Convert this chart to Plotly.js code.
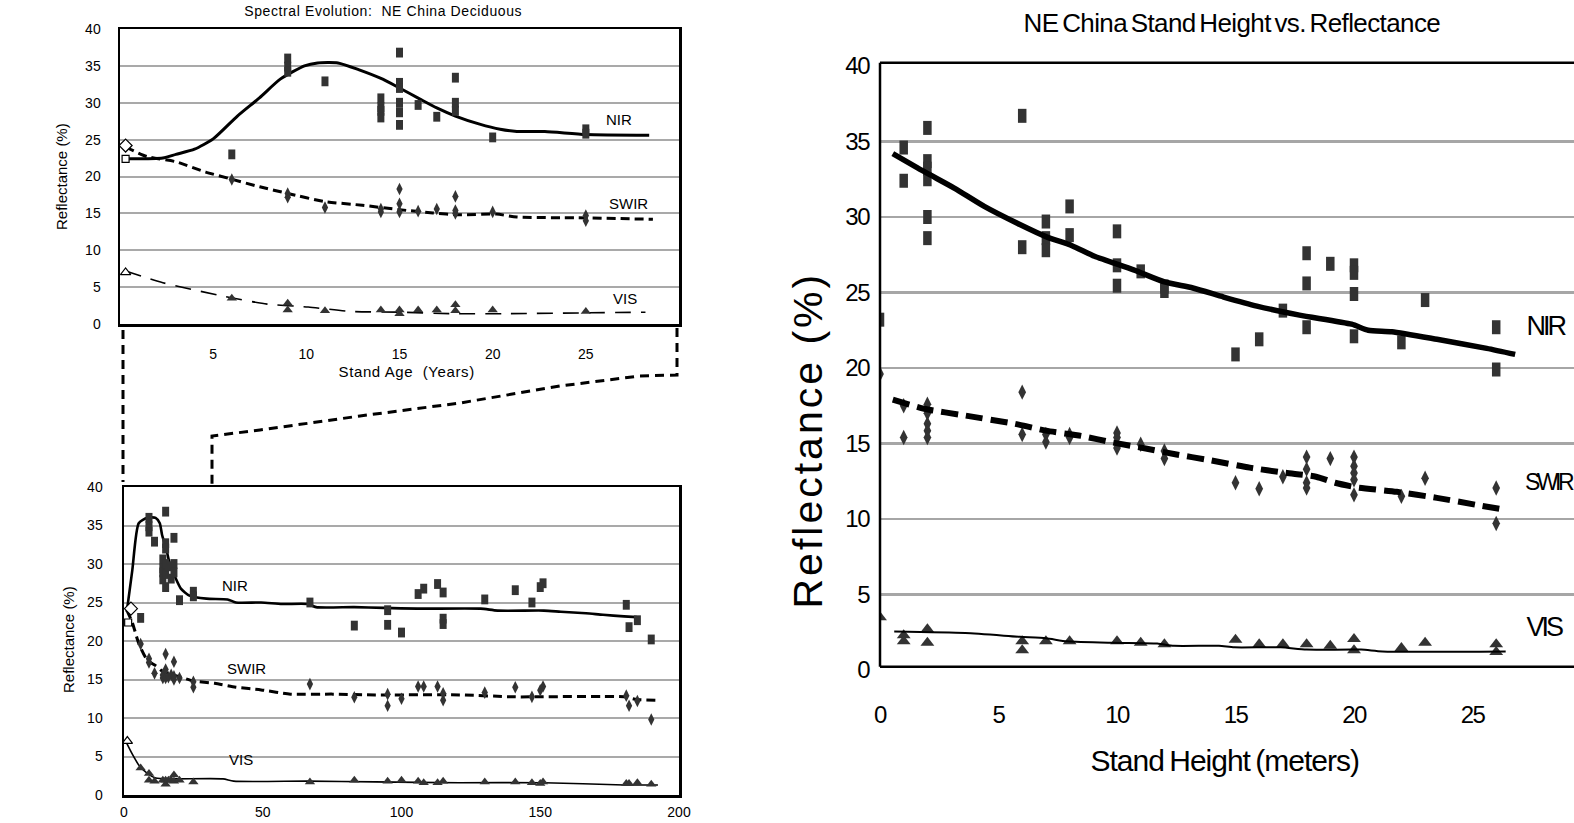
<!DOCTYPE html>
<html>
<head>
<meta charset="utf-8">
<script src="https://cdn.plot.ly/plotly-3.0.1.min.js"></script>
<style>
html, body { margin:0; padding:0; overflow:hidden; background:#fff; }
#chart { width:1620px; height:823px; }
.x3tick text, .y3tick text { letter-spacing:-1.5px; }
.annotation[data-index="10"] text { letter-spacing:-0.6px; word-spacing:-3px; }
.annotation[data-index="12"] text { letter-spacing:-1px; word-spacing:-2px; }
.annotation[data-index="11"] text { letter-spacing:3px; }
.annotation[data-index="13"] text, .annotation[data-index="15"] text { letter-spacing:-3px; }
.annotation[data-index="14"] text { letter-spacing:-3.5px; }
.annotation[data-index="0"] text, .annotation[data-index="2"] text { letter-spacing:0.6px; }
</style>
</head>
<body>
<div id="chart"></div>
<script>
// ---------- Stand age panels (top: 0-30 yr, bottom: 0-200 yr) ----------
const nirAge  = [6, 9,9,9, 11, 14,14,14,14, 15,15,15,15,15,15, 16, 17, 18,18,18, 20, 25,25, 67, 83, 95,95, 100, 106, 108, 113, 115,115,115, 130, 141, 147, 150, 151, 181, 182, 185, 190];
const nirVal  = [23.0, 36.0,34.9,34.2, 32.9, 30.6,29.4,28.9,28.0, 36.8,32.7,32.0,30.0,28.7,27.0, 29.7, 28.1, 33.4,30.0,28.9, 25.3, 26.4,25.8, 25.0, 22.0, 24.0,22.1, 21.1, 26.1, 26.8, 27.4, 26.3,22.9,22.2, 25.4, 26.6, 25.0, 27.0, 27.5, 24.7, 21.8, 22.7, 20.2];
const swirAge = [6, 9,9, 11, 14,14, 15,15,15, 16, 17, 18,18,18, 20, 25,25, 67, 83, 95,95, 100, 106, 108, 113, 115,115, 130, 141, 147, 150, 151, 181,182, 185, 190];
const swirVal = [19.6, 17.7,17.2, 15.8, 15.6,15.2, 18.3,16.3,15.2, 15.3, 15.6, 17.3,15.4,15.0, 15.2, 14.7,14.0, 14.4, 12.7, 13.1,11.6, 12.5, 14.1, 14.1, 14.1, 13.2,12.3, 13.3, 14.0, 12.75, 13.6, 14.1, 12.9,11.6, 12.2, 9.8];
const visAge  = [6, 9,9, 11, 14, 15,15, 16, 17, 18,18, 20, 25, 67, 83, 95, 100, 106, 108, 113, 115, 130, 141, 147, 150, 151, 181, 182, 185, 190];
const visVal  = [3.5, 2.8,1.9, 1.8, 1.9, 1.9,1.4, 1.9, 1.9, 2.6,1.8, 1.9, 1.7, 1.7, 1.9, 1.8, 1.9, 1.8, 1.6, 1.6, 1.8, 1.7, 1.7, 1.6, 1.5, 1.7, 1.5, 1.5, 1.6, 1.4];

// reference (open) points
const refAgeTop = [0.3, 0.3, 0.3];
const refAgeBot = [1.5, 2.5, 1.2];
const refVal    = [22.4, 24.2, 7.0];   // NIR, SWIR, VIS

// fitted curves, top panel
const topNirAge  = [0.3, 2.3, 3, 4, 5, 6.3, 7.5, 8.6, 9.9, 10.6, 11.7, 12.8, 14.1, 15, 16.1, 17, 18, 19.3, 20.4, 21.3, 22.8, 25, 28.4];
const topNirFit  = [22.4, 22.5, 23.0, 23.7, 25.1, 28.2, 30.7, 33.2, 35.0, 35.4, 35.4, 34.5, 33.2, 32.0, 30.5, 29.3, 28.2, 27.1, 26.4, 26.1, 26.1, 25.7, 25.6];
const topSwirAge = [0.3, 1.45, 3, 4.6, 5.9, 7.5, 9, 11, 13, 15, 16.8, 18.2, 20.2, 21.3, 24.6, 28.6];
const topSwirFit = [24.0, 22.7, 22.0, 20.6, 19.7, 18.6, 17.7, 16.6, 16.1, 15.5, 15.06, 14.8, 14.9, 14.5, 14.4, 14.2];
const topVisAge  = [0.3, 2.3, 5.5, 7.9, 10.1, 12.4, 15, 17.9, 20.5, 28.2];
const topVisFit  = [7.2, 5.6, 3.8, 2.7, 2.3, 1.7, 1.6, 1.4, 1.4, 1.6];

// fitted curves, bottom panel
const botNirAge  = [1, 3, 5.3, 8.4, 11.4, 12.9, 13.7, 15.2, 16.7, 18.3, 20.5, 23.6, 29.7, 37.3, 40.3, 49.4, 57, 66.2, 69.2, 82.9, 93.5, 105.7, 128.5, 134.6, 151.3, 157.4, 166.5, 172.6, 180.2, 184.8];
const botNirFit  = [23.8, 29.2, 35.3, 36.0, 36.0, 35.3, 33.8, 32.0, 29.7, 28.4, 26.8, 25.9, 25.5, 25.4, 25.0, 25.0, 24.8, 24.8, 24.4, 24.4, 24.3, 24.2, 24.2, 23.95, 23.95, 23.8, 23.6, 23.4, 23.2, 23.1];
const botSwirAge = [1, 3, 5.3, 8.4, 11.4, 13.7, 16, 20.5, 25.1, 32.7, 40.3, 49.4, 60, 75.3, 90.5, 120.9, 140.7, 180.2, 184.8, 193];
const botSwirFit = [24.0, 22.4, 19.7, 17.5, 16.8, 16.1, 15.8, 15.3, 14.8, 14.5, 14.0, 13.65, 13.1, 13.1, 13.0, 13.0, 12.75, 12.75, 12.4, 12.3];
const botVisAge  = [1, 3, 5.3, 8.4, 11.4, 17.5, 35.7, 39.5, 66.2, 90.5, 120.9, 151.3, 180.2, 192.4];
const botVisFit  = [6.7, 5.3, 3.9, 2.8, 2.2, 2.1, 2.1, 1.8, 1.8, 1.7, 1.6, 1.6, 1.3, 1.3];

// ---------- Stand height panel ----------
const nirHt  = [0, 1,1, 2,2,2,2,2,2, 6,6, 7,7,7, 8,8, 10,10,10, 11, 12,12, 15, 16, 17, 18,18,18, 19, 20,20,20,20, 22, 23, 26,26];
const nirH   = [23.2, 34.6,32.4, 35.9,33.7,33.2,32.5,30.0,28.6, 36.7,28.0, 29.7,28.6,27.8, 30.7,28.8, 29.05,26.8,25.45, 26.4, 25.4,25.1, 20.9, 21.9, 23.8, 27.6,25.6,22.7, 26.9, 26.8,26.3,24.9,22.1, 21.7, 24.5, 22.7,19.9];
const swirHt = [0, 1,1, 2,2,2,2,2, 6,6, 7,7, 8,8, 10,10,10, 11, 12,12, 15, 16, 17, 18,18,18,18, 19, 20,20,20,20,20, 22, 23, 26,26];
const swirH  = [19.6, 17.5,15.4, 17.6,17.0,16.3,15.85,15.4, 18.4,15.6, 15.6,15.1, 15.6,15.4, 15.7,15.4,14.7, 14.95, 14.5,14.0, 12.4, 12.0, 12.8, 14.1,13.3,12.4,12.05, 14.0, 14.1,13.5,13.05,12.6,11.6, 11.5, 12.7, 12.05,9.7];
const visHt  = [0, 1,1, 2,2, 6,6, 7, 8, 10, 11, 12, 15, 16, 17, 18, 19, 20,20, 22, 23, 26,26];
const visH   = [3.5, 2.3,1.9, 2.7,1.8, 1.9,1.3, 1.9, 1.9, 1.9, 1.8, 1.7, 2.0, 1.7, 1.7, 1.7, 1.6, 2.05,1.3, 1.45, 1.8, 1.7,1.2];

const nirFitHt  = [0.54, 1.87, 3.15, 4.4, 5.9, 7, 8.1, 9.05, 10.7, 12, 13.2, 14.5, 15.9, 17.7, 19.9, 20.6, 21.6, 23.5, 25.6, 26.8];
const nirHFit   = [34.2, 33.0, 31.9, 30.7, 29.5, 28.7, 28.1, 27.4, 26.5, 25.7, 25.3, 24.7, 24.1, 23.5, 22.9, 22.5, 22.4, 21.9, 21.3, 20.9];
const swirFitHt = [0.54, 1.87, 3.6, 5.7, 7, 8.5, 9.8, 11.1, 12.4, 13.9, 15.6, 17.1, 18.4, 19.2, 20.1, 21.8, 23.5, 25.3, 26.4];
const swirHFit  = [17.9, 17.3, 16.85, 16.3, 15.85, 15.5, 15.07, 14.7, 14.3, 13.9, 13.4, 13.06, 12.8, 12.4, 12.1, 11.8, 11.4, 10.9, 10.6];
const visFitHt  = [0.6, 3.6, 5.9, 7, 7.9, 9.8, 11.7, 12.4, 14.3, 14.95, 16.9, 18, 20.3, 21.2, 26.4];
const visHFit   = [2.55, 2.45, 2.2, 2.1, 1.9, 1.8, 1.75, 1.6, 1.6, 1.5, 1.5, 1.35, 1.35, 1.23, 1.23];

const yTicks = [0, 5, 10, 15, 20, 25, 30, 35, 40];
const topXTicks = [5, 10, 15, 20, 25];
const botXTicks = [0, 50, 100, 150, 200];
const htXTicks = [0, 5, 10, 15, 20, 25];

// ---------- layout helpers ----------
const W = 1620, H = 823;
const px = v => v / W, py = v => 1 - v / H;
const MK = '#333333';
const FONT = 'Liberation Sans, Arial, sans-serif';

function pts(x, y, xa, ya, sym, size, lw) {
  const m = {symbol: sym, size: size, color: MK, line: {width: lw || 0, color: MK}};
  return {x: x, y: y, xaxis: xa, yaxis: ya, type: 'scatter', mode: 'markers', marker: m, hoverinfo: 'skip', cliponaxis: true};
}
function openPts(x, y, xa, ya, sym, size) {
  return {x: x, y: y, xaxis: xa, yaxis: ya, type: 'scatter', mode: 'markers',
    marker: {symbol: sym, size: size, color: '#ffffff', line: {width: 1.2, color: '#000'}}, hoverinfo: 'skip'};
}
function fit(x, y, xa, ya, w, dash) {
  return {x: x, y: y, xaxis: xa, yaxis: ya, type: 'scatter', mode: 'lines',
    line: {color: '#000', width: w, dash: dash || 'solid', shape: 'spline', smoothing: 0.6}, hoverinfo: 'skip'};
}

const traces = [
  // top panel
  fit(topNirAge, topNirFit, 'x', 'y', 3),
  fit(topSwirAge, topSwirFit, 'x', 'y', 3, '9px,5px'),
  fit(topVisAge, topVisFit, 'x', 'y', 1.6, '16px,10px'),
  pts(nirAge, nirVal, 'x', 'y', 'line-ns', 7, 7),
  pts(swirAge, swirVal, 'x', 'y', 'diamond-tall', 9),
  pts(visAge, visVal, 'x', 'y', 'triangle-up', 9),
  openPts([refAgeTop[0]], [refVal[0]], 'x', 'y', 'square', 7),
  openPts([refAgeTop[1]], [refVal[1]], 'x', 'y', 'diamond', 10),
  openPts([refAgeTop[2]], [refVal[2]], 'x', 'y', 'triangle-up', 9),
  // bottom panel
  fit(botNirAge, botNirFit, 'x2', 'y2', 2.6),
  fit(botSwirAge, botSwirFit, 'x2', 'y2', 3, '9px,5px'),
  fit(botVisAge, botVisFit, 'x2', 'y2', 1.6),
  pts(nirAge, nirVal, 'x2', 'y2', 'line-ns', 7, 7),
  pts(swirAge, swirVal, 'x2', 'y2', 'diamond-tall', 9),
  pts(visAge, visVal, 'x2', 'y2', 'triangle-up', 9),
  openPts([refAgeBot[0]], [refVal[0]], 'x2', 'y2', 'square', 7),
  openPts([refAgeBot[1]], [refVal[1]], 'x2', 'y2', 'diamond', 10),
  openPts([refAgeBot[2]], [refVal[2]], 'x2', 'y2', 'triangle-up', 9),
  // right panel
  pts(nirHt, nirH, 'x3', 'y3', 'line-ns', 10, 8.5),
  pts(swirHt, swirH, 'x3', 'y3', 'diamond-tall', 11),
  pts(visHt, visH, 'x3', 'y3', 'triangle-up', 12),
  fit(nirFitHt, nirHFit, 'x3', 'y3', 5.5),
  fit(swirFitHt, swirHFit, 'x3', 'y3', 6, '17px,8px'),
  fit(visFitHt, visHFit, 'x3', 'y3', 2)
];

const smallTick = {family: FONT, size: 14, color: '#000'};
const bigTick = {family: FONT, size: 24, color: '#000'};

const layout = {
  width: W, height: H, showlegend: false,
  paper_bgcolor: '#fff', plot_bgcolor: '#fff',
  margin: {l: 0, r: 0, t: 0, b: 0},
  font: {family: FONT, color: '#000'},
  xaxis: {anchor: 'y', domain: [px(120), px(679)], range: [0, 30], tickvals: topXTicks, ticks: '', ticklabelstandoff: 16,
          showgrid: false, zeroline: false, showline: true, mirror: true, linecolor: '#000', linewidth: 2.5, tickfont: smallTick},
  yaxis: {anchor: 'x', domain: [py(324), py(29)], range: [0, 40], tickvals: yTicks, ticks: '', ticklabelstandoff: 14,
          showgrid: true, gridcolor: '#a9a9a9', gridwidth: 2, zeroline: false, showline: true, mirror: true, linecolor: '#000', linewidth: 2.5, tickfont: smallTick},
  xaxis2: {anchor: 'y2', domain: [px(124), px(679)], range: [0, 200], tickvals: botXTicks, ticks: '', ticklabelstandoff: 3,
          showgrid: false, zeroline: false, showline: true, mirror: true, linecolor: '#000', linewidth: 2.5, tickfont: smallTick},
  yaxis2: {anchor: 'x2', domain: [py(795), py(487)], range: [0, 40], tickvals: yTicks, ticks: '', ticklabelstandoff: 16,
          showgrid: true, gridcolor: '#a9a9a9', gridwidth: 2, zeroline: false, showline: true, mirror: true, linecolor: '#000', linewidth: 2.5, tickfont: smallTick},
  xaxis3: {anchor: 'y3', domain: [px(880), px(1591)], range: [0, 30], tickvals: htXTicks, ticks: '', ticklabelstandoff: 28,
          showgrid: false, zeroline: false, showline: false, tickfont: bigTick},
  yaxis3: {anchor: 'x3', domain: [py(670), py(66)], range: [0, 40], tickvals: yTicks, ticks: '', ticklabelstandoff: 10,
          showgrid: true, gridcolor: '#a6a6a6', gridwidth: 2.5, zeroline: false, showline: false, tickfont: bigTick},
  shapes: [
    // frame lines of right panel
    {type: 'line', xref: 'paper', yref: 'paper', x0: px(880), x1: px(880), y0: py(62.7), y1: py(666.7), line: {color: '#000', width: 2.5}},
    {type: 'line', xref: 'paper', yref: 'paper', x0: px(880), x1: 1, y0: py(62.7), y1: py(62.7), line: {color: '#000', width: 2.5}},
    {type: 'line', xref: 'paper', yref: 'paper', x0: px(880), x1: 1, y0: py(666.7), y1: py(666.7), line: {color: '#000', width: 2.5}},
    // zoom connector (dashed)
    {type: 'line', xref: 'paper', yref: 'paper', x0: px(123), x1: px(123), y0: py(330), y1: py(482), line: {color: '#000', width: 3, dash: '9px,6px'}},
    {type: 'path', xref: 'paper', yref: 'paper',
     path: 'M' + px(677) + ',' + py(328) + ' L' + px(677) + ',' + py(375) + ' L' + px(640) + ',' + py(376) +
           ' L' + px(560) + ',' + py(386) + ' L' + px(460) + ',' + py(403) + ' L' + px(360) + ',' + py(416) +
           ' L' + px(260) + ',' + py(430) + ' L' + px(212) + ',' + py(436) + ' L' + px(212) + ',' + py(487),
     line: {color: '#000', width: 3, dash: '9px,6px'}}
  ],
  annotations: [
    // 0 top title
    {xref: 'paper', yref: 'paper', x: px(383), y: py(11), text: 'Spectral Evolution:  NE China Deciduous', showarrow: false, font: {size: 14}, xanchor: 'center', yanchor: 'middle'},
    // 1 top y title
    {xref: 'paper', yref: 'paper', x: px(62), y: py(177), text: 'Reflectance (%)', textangle: -90, showarrow: false, font: {size: 15}, xanchor: 'center', yanchor: 'middle'},
    // 2 top x title
    {xref: 'paper', yref: 'paper', x: px(406), y: py(371), text: 'Stand Age  (Years)', showarrow: false, font: {size: 15}, xanchor: 'center', yanchor: 'middle'},
    // 3-5 top series labels
    {xref: 'x', yref: 'y', x: 26.8, y: 27.7, text: 'NIR', showarrow: false, font: {size: 15}},
    {xref: 'x', yref: 'y', x: 27.3, y: 16.3, text: 'SWIR', showarrow: false, font: {size: 15}},
    {xref: 'x', yref: 'y', x: 27.1, y: 3.4, text: 'VIS', showarrow: false, font: {size: 15}},
    // 6 bottom y title
    {xref: 'paper', yref: 'paper', x: px(68), y: py(640), text: 'Reflectance (%)', textangle: -90, showarrow: false, font: {size: 15}, xanchor: 'center', yanchor: 'middle'},
    // 7-9 bottom series labels
    {xref: 'x2', yref: 'y2', x: 40, y: 27.2, text: 'NIR', showarrow: false, font: {size: 15}},
    {xref: 'x2', yref: 'y2', x: 44, y: 16.4, text: 'SWIR', showarrow: false, font: {size: 15}},
    {xref: 'x2', yref: 'y2', x: 42, y: 4.6, text: 'VIS', showarrow: false, font: {size: 15}},
    // 10 right title
    {xref: 'paper', yref: 'paper', x: px(1232), y: py(23), text: 'NE China Stand Height vs. Reflectance', showarrow: false, font: {size: 26}, xanchor: 'center', yanchor: 'middle'},
    // 11 right y title
    {xref: 'paper', yref: 'paper', x: px(808), y: py(440), text: 'Reflectance (%)', textangle: -90, showarrow: false, font: {size: 41}, xanchor: 'center', yanchor: 'middle'},
    // 12 right x title
    {xref: 'paper', yref: 'paper', x: px(1224), y: py(760), text: 'Stand Height (meters)', showarrow: false, font: {size: 30}, xanchor: 'center', yanchor: 'middle'},
    // 13-15 right series labels
    {xref: 'x3', yref: 'y3', x: 27.0, y: 22.8, text: 'NIR', showarrow: false, font: {size: 27}, xanchor: 'left'},
    {xref: 'x3', yref: 'y3', x: 26.85, y: 12.45, text: 'SWIR', showarrow: false, font: {size: 23}, xanchor: 'left'},
    {xref: 'x3', yref: 'y3', x: 27.0, y: 2.85, text: 'VIS', showarrow: false, font: {size: 27}, xanchor: 'left'}
  ]
};

Plotly.newPlot('chart', traces, layout, {staticPlot: true, displayModeBar: false});
</script>
</body>
</html>
